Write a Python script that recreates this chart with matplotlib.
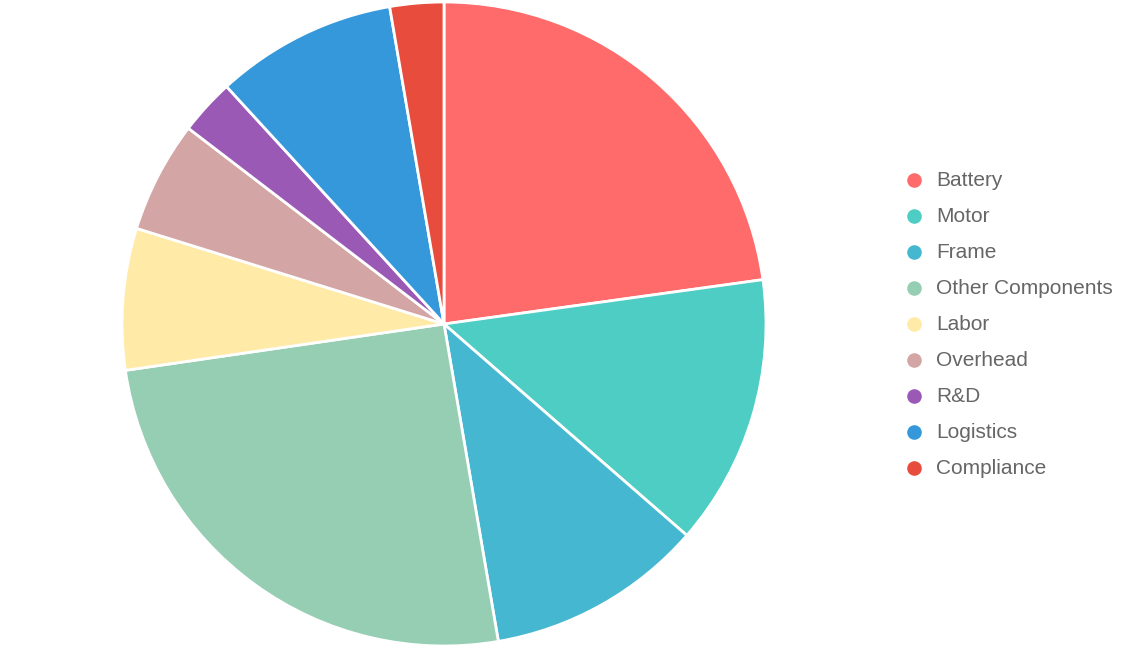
import matplotlib.pyplot as plt

# slice data (percent of total cost, clockwise from top)
labels = ['Battery', 'Motor', 'Frame', 'Other Components', 'Labor',
          'Overhead', 'R&D', 'Logistics', 'Compliance']
values = [22.8, 13.6, 10.9, 25.4, 7.1, 5.6, 2.8, 9.1, 2.7]
colors = ['#FF6B6B', '#4ECDC4', '#45B7D1', '#96CEB4', '#FFEAA7',
          '#D4A5A5', '#9B59B6', '#3498DB', '#E74C3C']

W, H = 1128, 649
fig = plt.figure(figsize=(W / 100, H / 100), dpi=100)

# pie axes: center (444, 324) px, radius 322 px
cx, cy, r = 444, 324, 322
ax = fig.add_axes([(cx - r) / W, (H - cy - r) / H, 2 * r / W, 2 * r / H])
ax.pie(values, colors=colors, startangle=90, counterclock=False, radius=1,
       wedgeprops=dict(edgecolor='white', linewidth=2))
ax.set_xlim(-1, 1)
ax.set_ylim(-1, 1)
ax.set_aspect('equal')
ax.axis('off')

# legend on the right
leg = fig.add_axes([0, 0, 1, 1])
leg.set_xlim(0, W)
leg.set_ylim(H, 0)
leg.axis('off')
for i, (lab, col) in enumerate(zip(labels, colors)):
    y = 180 + 36 * i
    leg.plot(914, y, 'o', color=col, markersize=10.5, markeredgewidth=0)
    leg.text(936, y, lab, fontsize=15, color='#666666', va='center', ha='left',
             family='Liberation Sans')

fig.savefig('out.png', dpi=100)
